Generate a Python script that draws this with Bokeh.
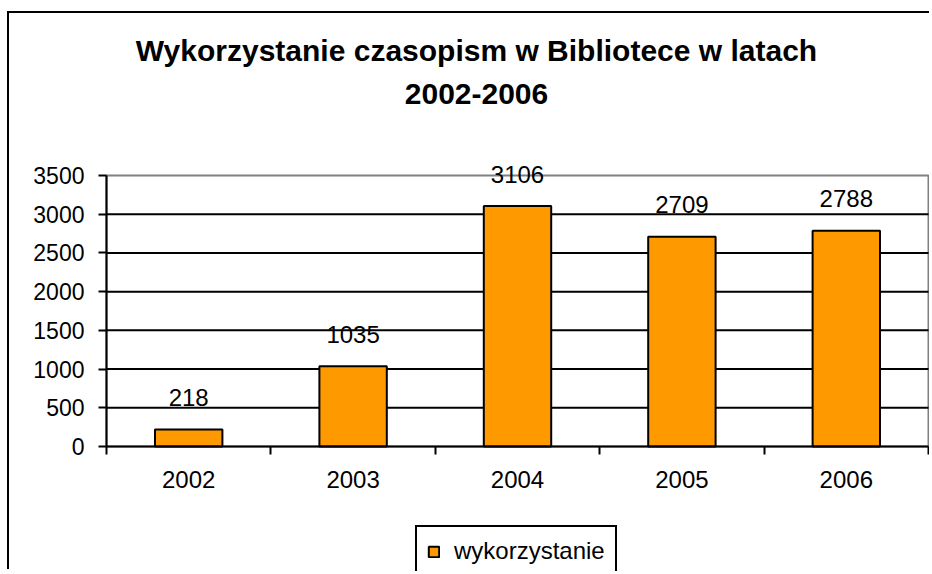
from bokeh.plotting import figure
from bokeh.models import (ColumnDataSource, Range1d, LinearAxis, FixedTicker, Legend, LegendItem,
                          Label)
from bokeh.core.properties import value
from bokeh.embed import file_html
from bokeh.resources import INLINE

years = ["2002", "2003", "2004", "2005", "2006"]
usage = [218, 1035, 3106, 2709, 2788]
y_ticks = [0, 500, 1000, 1500, 2000, 2500, 3000, 3500]
title_lines = ["Wykorzystanie czasopism w Bibliotece w latach", "2002-2006"]
series_name = "wykorzystanie"

FONT = "Liberation Sans"
ORANGE = "#FF9900"

# ---- layout (pixels inside the canvas) ----
W, H = 922, 558                 # canvas size
PX_L, PX_R = 97, 919            # plot area left / right
PX_T, PX_B = 162, 433           # plot area top / bottom (from canvas top)

n = len(years)
y_max = y_ticks[-1]
sx = (PX_R - PX_L) / n
sy = (PX_B - PX_T) / y_max
x_range = Range1d(-PX_L / sx, n + (W - PX_R) / sx)
y_range = Range1d(-(H - PX_B) / sy, y_max + PX_T / sy)


def dx(px):   # canvas pixel -> data x
    return (px - PX_L) / sx


def dy(py):   # canvas pixel (from top) -> data y
    return (PX_B - py) / sy


pos = [i + 0.5 for i in range(n)]
edges = list(range(n + 1))
src = ColumnDataSource(dict(x=pos, year=years, usage=usage, lbl=[str(v) for v in usage]))
inner = y_ticks[1:-1]
grid_src = ColumnDataSource(dict(x0=[0] * len(inner), x1=[n] * len(inner), y=inner))

p = figure(width=W, height=H, x_range=x_range, y_range=y_range,
           output_backend="svg", toolbar_location=None, x_axis_location=None,
           y_axis_location=None, title=None, min_border=0)
p.styles = {"border-left": "2px solid black", "border-top": "2px solid black",
            "margin-left": "7px", "margin-top": "11px"}
p.outline_line_color = None
p.background_fill_color = "white"
p.border_fill_color = "white"
p.xgrid.grid_line_color = None
p.ygrid.grid_line_color = None

# plot-area border (grey) and horizontal grid lines (black)
p.quad(left=0, right=n, bottom=0, top=y_max, fill_color=None,
       line_color="#808080", line_width=2)
p.segment(x0="x0", x1="x1", y0="y", y1="y", source=grid_src, line_color="black", line_width=2)

# y axis
yax = LinearAxis(ticker=FixedTicker(ticks=y_ticks), fixed_location=0, bounds=(0, y_max))
yax.axis_line_color = "black"
yax.axis_line_width = 2
yax.major_tick_line_width = 2
yax.major_tick_in = 0
yax.major_tick_out = 8
yax.minor_tick_line_color = None
yax.major_label_standoff = 14
yax.major_label_text_font = FONT
yax.major_label_text_font_size = "23px"
yax.major_label_text_color = "black"
p.add_layout(yax, "left")

# x axis: labels at bar centres, tick marks at category boundaries
xax = LinearAxis(ticker=FixedTicker(ticks=pos, minor_ticks=edges), fixed_location=0,
                 bounds=(0, n), major_label_overrides={x: y for x, y in zip(pos, years)})
xax.axis_line_color = "black"
xax.axis_line_width = 2
xax.major_tick_line_color = None
xax.major_tick_out = 0
xax.major_tick_in = 0
xax.minor_tick_line_color = "black"
xax.minor_tick_line_width = 2
xax.minor_tick_out = 8
xax.minor_tick_in = 0
xax.major_label_standoff = 16
xax.major_label_text_font = FONT
xax.major_label_text_font_size = "24px"
xax.major_label_text_color = "black"
p.add_layout(xax, "below")

bars = p.vbar(x="x", top="usage", width=0.41, source=src, fill_color=ORANGE,
              line_color="black", line_width=2)

p.text(x="x", y="usage", text="lbl", source=src, text_align="center",
       text_baseline="alphabetic", y_offset=-32, text_font=value(FONT),
       text_font_size="24px", text_color="black")

# two-line title
for txt, py in zip(title_lines, [37, 80]):
    p.add_layout(Label(x=dx(467), y=dy(py), text=txt, text_align="center",
                       text_baseline="middle", text_font=FONT, text_font_size="30px",
                       text_font_style="bold", text_color="black"))

legend = Legend(items=[LegendItem(label=series_name, renderers=[bars])], location=(406, -6),
                orientation="horizontal", border_line_color="black", border_line_width=2,
                border_line_alpha=1.0, label_text_font=FONT, label_text_font_size="24px",
                label_text_color="black",
                glyph_width=13, glyph_height=13, padding=10, label_standoff=14, margin=0,
                background_fill_color="white", background_fill_alpha=1.0)
p.add_layout(legend, "center")

open("out.html", "w").write(file_html(p, INLINE))
